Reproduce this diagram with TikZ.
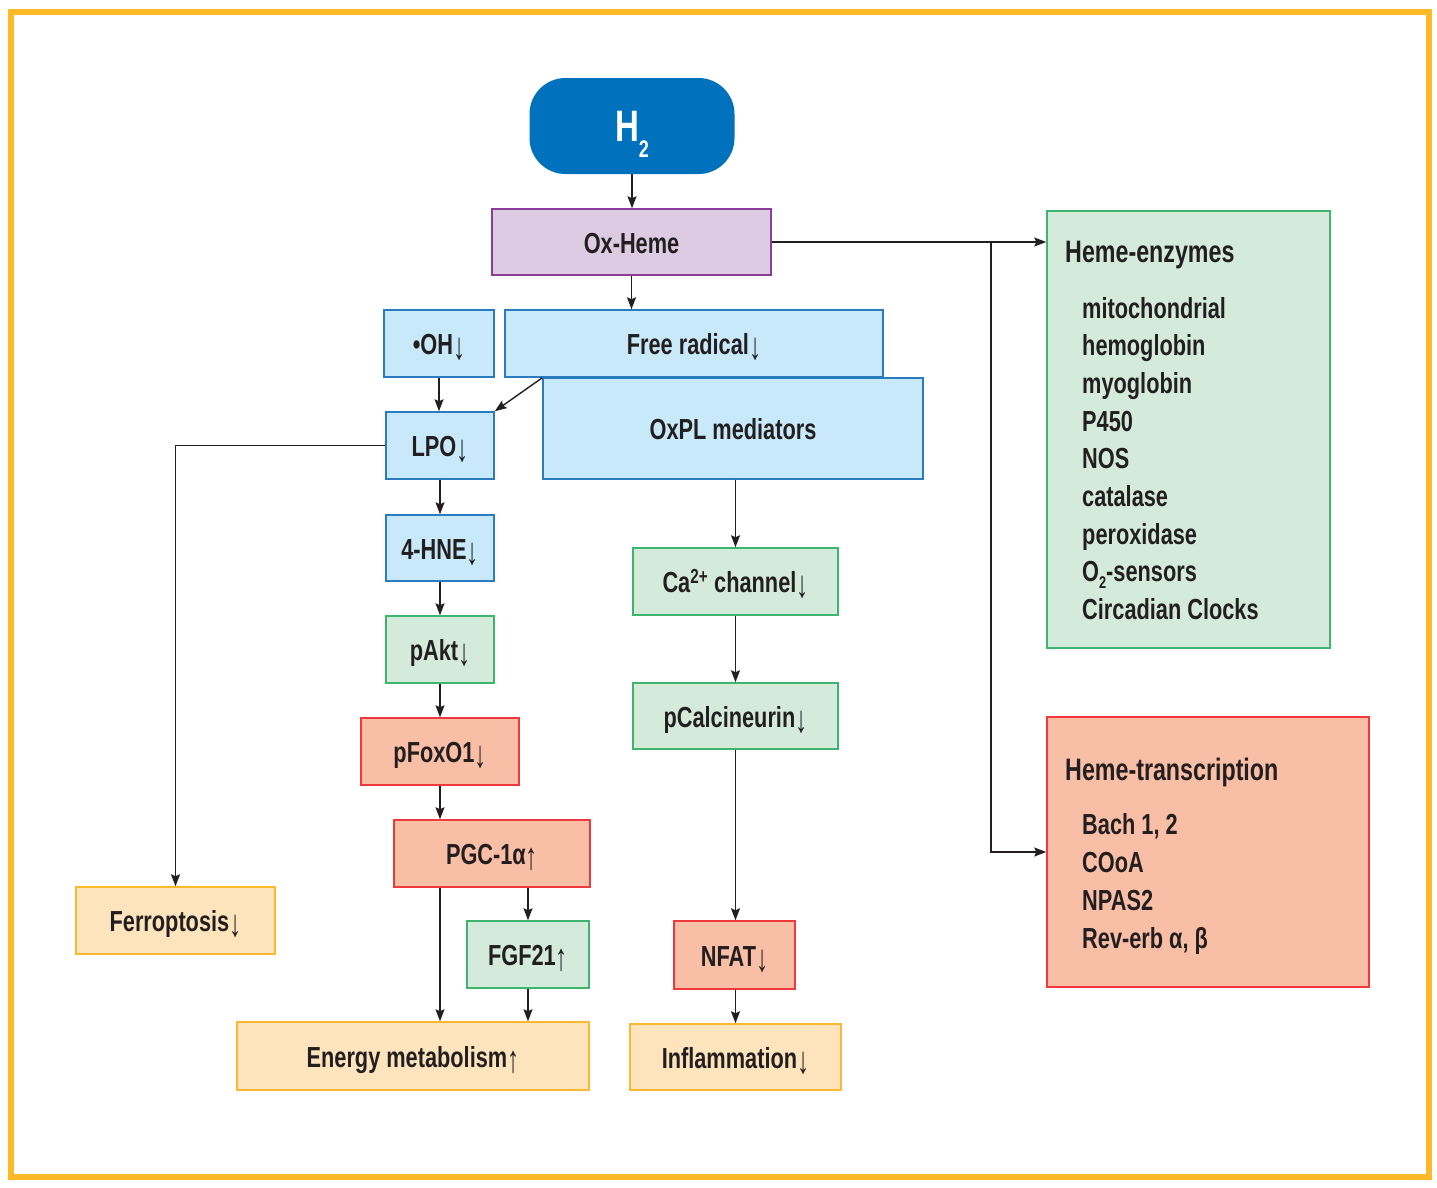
\documentclass[tikz,border=0pt]{standalone}
\usepackage{fontspec}
\setmainfont{Liberation Sans}[FakeStretch=0.75]
\usetikzlibrary{arrows.meta}
\definecolor{txt}{HTML}{231F20}
\definecolor{frame}{HTML}{FDB927}
\definecolor{hblue}{HTML}{0071BC}
\definecolor{bfill}{HTML}{C7E9F9}
\definecolor{bline}{HTML}{2B7BC0}
\definecolor{gfill}{HTML}{D4EADB}
\definecolor{gline}{HTML}{3DB56F}
\definecolor{rfill}{HTML}{F9BEA6}
\definecolor{rline}{HTML}{EE3A3D}
\definecolor{yfill}{HTML}{FDE4BD}
\definecolor{yline}{HTML}{FBB930}
\definecolor{pfill}{HTML}{DDCBE4}
\definecolor{pline}{HTML}{8C3D9B}
\newcommand{\dn}{\raisebox{-5pt}{\scalebox{0.85}[1]{\mdseries\fontsize{38}{38}\selectfont ↓}}}
\newcommand{\up}{\raisebox{-5pt}{\scalebox{0.85}[1]{\mdseries\fontsize{38}{38}\selectfont ↑}}}
\begin{document}
\begin{tikzpicture}[x=1pt,y=-1pt,
  base/.style={line width=1.5pt, inner sep=0pt, text=txt, text height=22pt, text depth=0pt,
    font=\bfseries\fontsize{29}{34}\selectfont},
  bluebox/.style={base, draw=bline, fill=bfill},
  greenbox/.style={base, draw=gline, fill=gfill},
  redbox/.style={base, draw=rline, fill=rfill},
  yellowbox/.style={base, draw=yline, fill=yfill},
  purplebox/.style={base, draw=pline, fill=pfill},
  conn/.style={draw=txt, line width=1.4pt, -{Stealth[length=12pt,width=9pt,inset=2pt]}},
  head/.style={anchor=base west, inner sep=0pt, text=txt, font=\bfseries\fontsize{31}{34}\selectfont},
  item/.style={anchor=base west, inner sep=0pt, text=txt, font=\bfseries\fontsize{29}{34}\selectfont}
]
\useasboundingbox (0,0) rectangle (1437,1187);
\draw[frame, line width=6pt] (11,12) rectangle (1429,1177);

% main column nodes
\node[fill=hblue, minimum width=205, minimum height=96, rounded corners=36pt, text=white,
  font=\bfseries\fontsize{44}{44}\selectfont, inner sep=0pt] (h2) at (632,126)
  {H\smash{\raisebox{-16pt}{\fontsize{24}{24}\selectfont 2}}};
\node[purplebox, minimum width=279, minimum height=66] (ox) at (631.5,242) {Ox-Heme};
\node[bluebox, minimum width=110, minimum height=67] (oh) at (439,343.5) {•OH\dn};
\node[bluebox, minimum width=378, minimum height=67] (fr) at (694,343.5) {Free radical\dn};
\node[bluebox, minimum width=380, minimum height=101] (oxpl) at (733,428.5) {OxPL mediators};
\node[bluebox, minimum width=108, minimum height=67] (lpo) at (440,445.5) {LPO\dn};
\node[bluebox, minimum width=108, minimum height=66] (hne) at (440,548) {4-HNE\dn};
\node[greenbox, minimum width=108, minimum height=67] (akt) at (440,649.5) {pAkt\dn};
\node[redbox, minimum width=158, minimum height=67] (fox) at (440,751.5) {pFoxO1\dn};
\node[redbox, minimum width=196, minimum height=67] (pgc) at (492,853.5) {PGC-1α\up};
\node[greenbox, minimum width=122, minimum height=67] (fgf) at (528,954.5) {FGF21\up};
\node[yellowbox, minimum width=352, minimum height=68] (en) at (413,1056) {Energy metabolism\up};
\node[yellowbox, minimum width=199, minimum height=67] (fer) at (175.5,920.5) {Ferroptosis\dn};
\node[greenbox, minimum width=205, minimum height=67] (ca) at (735.5,581.5) {Ca\textsuperscript{2+} channel\dn};
\node[greenbox, minimum width=205, minimum height=66] (pcal) at (735.5,716) {pCalcineurin\dn};
\node[redbox, minimum width=121, minimum height=68] (nfat) at (734.5,955) {NFAT\dn};
\node[yellowbox, minimum width=211, minimum height=66] (inf) at (735.5,1057) {Inflammation\dn};

% right boxes
\node[greenbox, minimum width=283, minimum height=437] (enz) at (1188.5,429.5) {};
\node[redbox, minimum width=322, minimum height=270] (tr) at (1208,852) {};

\node[head] (enzh) at (1065,262) {Heme-enzymes};
\node[item] (e1) at (1082,318) {mitochondrial};
\node[item] (e2) at (1082,355.7) {hemoglobin};
\node[item] (e3) at (1082,393.4) {myoglobin};
\node[item] (e4) at (1082,431.1) {P450};
\node[item] (e5) at (1082,468.8) {NOS};
\node[item] (e6) at (1082,506.5) {catalase};
\node[item] (e7) at (1082,544.2) {peroxidase};
\node[item] (e8) at (1082,581.9) {O\smash{\raisebox{-7pt}{\fontsize{17}{17}\selectfont 2}}-sensors};
\node[item] (e9) at (1082,619.6) {Circadian Clocks};

\node[head] (trh) at (1065,780) {Heme-transcription};
\node[item] (t1) at (1082,834) {Bach 1, 2};
\node[item] (t2) at (1082,872) {COoA};
\node[item] (t3) at (1082,910) {NPAS2};
\node[item] (t4) at (1082,948) {Rev-erb α, β};

% connectors
\draw[conn] (h2.south) -- (ox.north -| h2.south);
\draw[conn] (ox.south) -- (fr.north -| ox.south);
\draw[conn] (ox.east) -- (enz.west |- ox.east);
\coordinate (br) at (991,242);
\draw[conn] (br) |- (tr.west);
\draw[conn] (oh.south) -- (lpo.north -| oh.south);
\draw[conn] (fr.south -| oxpl.west) -- (lpo.north east);
\draw[conn] (lpo.west) -| (fer.north);
\draw[conn] (lpo.south) -- (hne.north);
\draw[conn] (hne.south) -- (akt.north);
\draw[conn] (akt.south) -- (fox.north);
\draw[conn] (fox.south) -- (pgc.north -| fox.south);
\draw[conn] (pgc.south -| fox.south) -- (en.north -| fox.south);
\draw[conn] (pgc.south -| fgf.north) -- (fgf.north);
\draw[conn] (fgf.south) -- (en.north -| fgf.south);
\draw[conn] (oxpl.south -| ca.north) -- (ca.north);
\draw[conn] (ca.south) -- (pcal.north);
\draw[conn] (pcal.south) -- (nfat.north -| pcal.south);
\draw[conn] (nfat.south -| pcal.south) -- (inf.north -| pcal.south);
\end{tikzpicture}
\end{document}
